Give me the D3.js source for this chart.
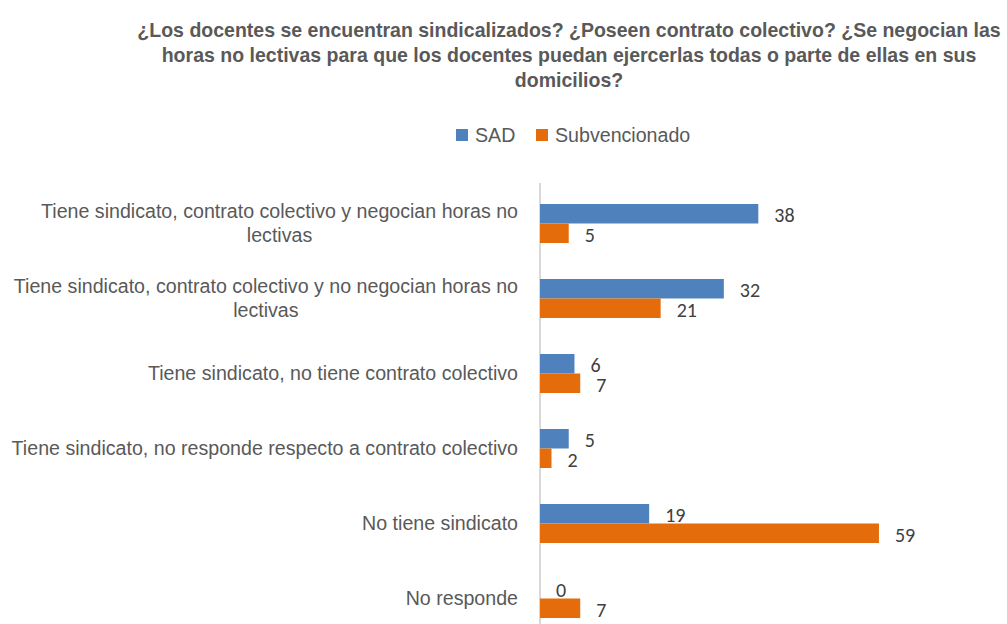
<!DOCTYPE html>
<html>
<head>
<meta charset="utf-8">
<script src="https://cdn.jsdelivr.net/npm/d3@7"></script>
<style>
  html, body { margin: 0; padding: 0; background: #fff; }
  svg { display: block; }
  .narrow { font-family: "Liberation Sans Narrow", "Arial Narrow", "Liberation Sans", Arial, sans-serif; }
  .num { font-family: Carlito, Calibri, Lato, "Open Sans", sans-serif; }
</style>
</head>
<body>
<svg id="chart" width="1007" height="624"></svg>
<script>
// Survey answers, top to bottom
const categories = [
  ["Tiene sindicato, contrato colectivo y negocian horas no", "lectivas"],
  ["Tiene sindicato, contrato colectivo y no negocian horas no", "lectivas"],
  ["Tiene sindicato, no tiene contrato colectivo"],
  ["Tiene sindicato, no responde respecto a contrato colectivo"],
  ["No tiene sindicato"],
  ["No responde"]
];
const seriesNames = ["SAD", "Subvencionado"];
const sadValues = [38, 32, 6, 5, 19, 0];
const subvValues = [5, 21, 7, 2, 59, 7];
const titleLines = [
  "¿Los docentes se encuentran sindicalizados? ¿Poseen contrato colectivo? ¿Se negocian las",
  "horas no lectivas para que los docentes puedan ejercerlas todas o parte de ellas en sus",
  "domicilios?"
];

const colors = ["#4F81BD", "#E46C0A"];
const textColor = "#595959";

const svg = d3.select("#chart");
const keys = categories.map((d, i) => i);
const seriesValues = [sadValues, subvValues];

// Scales
const y = d3.scaleBand().domain(keys).range([186, 636]).paddingInner(0.48).paddingOuter(0.24);
const ySub = d3.scaleBand().domain([0, 1]).range([0, y.bandwidth()]);
const x = d3.scaleLinear().domain([0, 60]).range([540, 540 + 60 * 5.745]);

// Condensed look: tall glyphs squeezed horizontally
const squeeze = 0.935;

// Title
const title = svg.append("g")
  .attr("transform", `translate(569,0) scale(0.93,1)`)
  .append("text")
  .attr("class", "narrow")
  .attr("text-anchor", "middle")
  .attr("fill", textColor)
  .attr("font-size", 21)
  .attr("font-weight", "bold");
titleLines.forEach((t, i) => {
  title.append("tspan").attr("x", 0).attr("y", 37 + i * 25).text(t);
});

// Legend
const legend = svg.append("g").attr("class", "narrow");
const legendX = [456, 536];
seriesNames.forEach((name, i) => {
  const g = legend.append("g").attr("transform", `translate(${legendX[i]},129)`);
  g.append("rect").attr("width", 12).attr("height", 12).attr("fill", colors[i]);
  g.append("g").attr("transform", `translate(19,13) scale(${squeeze},1)`)
    .append("text").attr("font-size", 21).attr("fill", textColor).text(name);
});

// Category axis (vertical line at zero)
const axis = svg.append("g")
  .attr("transform", `translate(${x(0)},0)`)
  .call(d3.axisLeft(y).tickSize(0).tickFormat(""));
axis.select(".domain").attr("stroke", "#D9D9D9").attr("stroke-width", 2)
  .attr("d", `M0,183V624`);

// Category labels: centred block, right-aligned next to the axis
const labelRight = 518;
const lh = 24;
const labels = svg.append("g").attr("class", "narrow")
  .attr("font-size", 21).attr("fill", textColor);
categories.forEach((lines, i) => {
  const cy = y(i) + y.bandwidth() / 2;
  const t = labels.append("g")
    .attr("transform", `translate(${labelRight},${cy}) scale(${squeeze},1)`)
    .append("text").attr("text-anchor", "middle");
  const spans = lines.map(l => t.append("tspan").text(l));
  let maxW = 0;
  spans.forEach(s => { maxW = Math.max(maxW, s.node().getComputedTextLength()); });
  spans.forEach((s, j) => {
    s.attr("x", -maxW / 2).attr("y", -(lines.length - 1) * lh / 2 + j * lh + 6.5);
  });
});

// Bars
const groups = svg.append("g").selectAll("g")
  .data(keys).join("g")
  .attr("transform", d => `translate(0,${y(d)})`);

groups.selectAll("rect")
  .data(i => seriesValues.map((vals, s) => ({ s, v: vals[i] })))
  .join("rect")
  .attr("x", x(0))
  .attr("y", d => ySub(d.s))
  .attr("width", d => x(d.v) - x(0))
  .attr("height", ySub.bandwidth())
  .attr("fill", d => colors[d.s]);

// Value labels
groups.selectAll("text")
  .data(i => seriesValues.map((vals, s) => ({ s, v: vals[i] })))
  .join("text")
  .attr("class", "num")
  .attr("x", d => x(d.v) + 16)
  .attr("y", d => ySub(d.s) + ySub.bandwidth() / 2 + 8.5)
  .attr("font-size", 20)
  .attr("fill", "#404040")
  .text(d => d.v);
</script>
</body>
</html>
